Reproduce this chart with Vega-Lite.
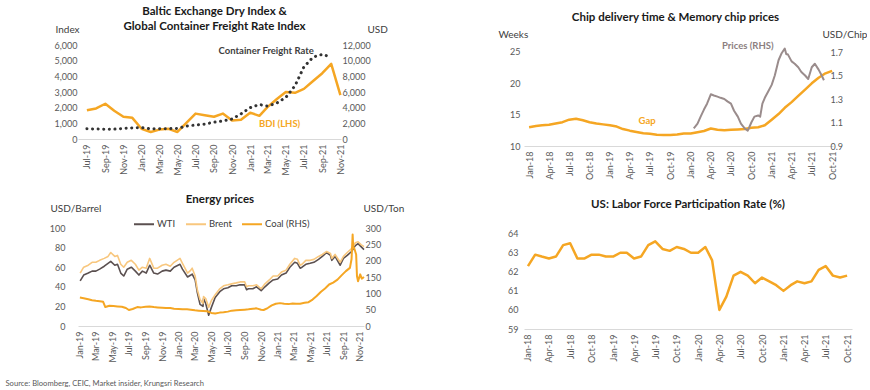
{
  "$schema": "https://vega.github.io/schema/vega-lite/v6.json",
  "padding": {"left": 5, "top": 5, "right": 0, "bottom": 0},
  "config": {
    "font": "Lato",
    "view": {"stroke": null},
    "axis": {"grid": false, "ticks": false, "domain": false, "labelFont": "Lato", "labelFontSize": 9, "labelColor": "#595959", "titleFont": "Lato", "titleFontWeight": "normal", "titleFontSize": 10, "titleColor": "#404040", "labelOverlap": false},
    "axisX": {"domain": true, "domainColor": "#D9D9D9", "domainWidth": 1, "labelAngle": -90, "labelPadding": 5, "labelFlush": false},
    "title": {"font": "Lato", "fontSize": 11.5, "fontWeight": "bold", "color": "#1A1A1A", "anchor": "middle"},
    "line": {"strokeJoin": "round"}
  },
  "datasets": {
    "freight": [
      {"date": "2019-07-01", "bdi": 1830, "cfr": 1300},
      {"date": "2019-08-01", "bdi": 1950, "cfr": 1280},
      {"date": "2019-09-01", "bdi": 2250, "cfr": 1250},
      {"date": "2019-10-01", "bdi": 1800, "cfr": 1260},
      {"date": "2019-11-01", "bdi": 1420, "cfr": 1350},
      {"date": "2019-12-01", "bdi": 1350, "cfr": 1420},
      {"date": "2020-01-01", "bdi": 650, "cfr": 1450},
      {"date": "2020-02-01", "bdi": 450, "cfr": 1300},
      {"date": "2020-03-01", "bdi": 600, "cfr": 1300},
      {"date": "2020-04-01", "bdi": 650, "cfr": 1320},
      {"date": "2020-05-01", "bdi": 450, "cfr": 1350},
      {"date": "2020-06-01", "bdi": 1050, "cfr": 1650},
      {"date": "2020-07-01", "bdi": 1620, "cfr": 1780},
      {"date": "2020-08-01", "bdi": 1520, "cfr": 1900},
      {"date": "2020-09-01", "bdi": 1420, "cfr": 2150},
      {"date": "2020-10-01", "bdi": 1620, "cfr": 2300},
      {"date": "2020-11-01", "bdi": 1180, "cfr": 2550},
      {"date": "2020-12-01", "bdi": 1230, "cfr": 3200},
      {"date": "2021-01-01", "bdi": 1680, "cfr": 4000},
      {"date": "2021-02-01", "bdi": 1480, "cfr": 4400},
      {"date": "2021-03-01", "bdi": 2050, "cfr": 4200},
      {"date": "2021-04-01", "bdi": 2550, "cfr": 4600},
      {"date": "2021-05-01", "bdi": 3000, "cfr": 5300},
      {"date": "2021-06-01", "bdi": 2950, "cfr": 6800},
      {"date": "2021-07-01", "bdi": 3200, "cfr": 9200},
      {"date": "2021-08-01", "bdi": 3700, "cfr": 10450},
      {"date": "2021-09-01", "bdi": 4200, "cfr": 10800},
      {"date": "2021-10-01", "bdi": 4800, "cfr": 10450},
      {"date": "2021-11-01", "bdi": 2800, "cfr": null}
    ],
    "gap": [
      {"date": "2018-01-01", "gap": 13.0}, {"date": "2018-02-01", "gap": 13.2}, {"date": "2018-03-01", "gap": 13.3}, {"date": "2018-04-01", "gap": 13.4},
      {"date": "2018-05-01", "gap": 13.6}, {"date": "2018-06-01", "gap": 13.8}, {"date": "2018-07-01", "gap": 14.2}, {"date": "2018-08-01", "gap": 14.35},
      {"date": "2018-09-01", "gap": 14.1}, {"date": "2018-10-01", "gap": 13.8}, {"date": "2018-11-01", "gap": 13.6}, {"date": "2018-12-01", "gap": 13.45},
      {"date": "2019-01-01", "gap": 13.3}, {"date": "2019-02-01", "gap": 13.1}, {"date": "2019-03-01", "gap": 12.7}, {"date": "2019-04-01", "gap": 12.45},
      {"date": "2019-05-01", "gap": 12.25}, {"date": "2019-06-01", "gap": 12.05}, {"date": "2019-07-01", "gap": 11.95}, {"date": "2019-08-01", "gap": 11.8},
      {"date": "2019-09-01", "gap": 11.75}, {"date": "2019-10-01", "gap": 11.75}, {"date": "2019-11-01", "gap": 11.85}, {"date": "2019-12-01", "gap": 12.0},
      {"date": "2020-01-01", "gap": 12.0}, {"date": "2020-02-01", "gap": 12.2}, {"date": "2020-03-01", "gap": 12.4}, {"date": "2020-04-01", "gap": 12.8},
      {"date": "2020-05-01", "gap": 12.6}, {"date": "2020-06-01", "gap": 12.5}, {"date": "2020-07-01", "gap": 12.6}, {"date": "2020-08-01", "gap": 12.65},
      {"date": "2020-09-01", "gap": 12.7}, {"date": "2020-10-01", "gap": 12.9}, {"date": "2020-11-01", "gap": 13.0}, {"date": "2020-12-01", "gap": 13.3},
      {"date": "2021-01-01", "gap": 14.2}, {"date": "2021-02-01", "gap": 15.1}, {"date": "2021-03-01", "gap": 16.1}, {"date": "2021-04-01", "gap": 17.0},
      {"date": "2021-05-01", "gap": 18.0}, {"date": "2021-06-01", "gap": 19.0}, {"date": "2021-07-01", "gap": 20.0}, {"date": "2021-08-01", "gap": 20.9},
      {"date": "2021-09-01", "gap": 21.6}, {"date": "2021-10-01", "gap": 22.0}
    ],
    "chip": [
      {"date": "2020-01-15", "price": 1.05}, {"date": "2020-02-01", "price": 1.09}, {"date": "2020-02-15", "price": 1.15}, {"date": "2020-03-01", "price": 1.21},
      {"date": "2020-03-15", "price": 1.26}, {"date": "2020-04-01", "price": 1.34}, {"date": "2020-04-15", "price": 1.33}, {"date": "2020-05-01", "price": 1.32},
      {"date": "2020-05-15", "price": 1.31}, {"date": "2020-06-01", "price": 1.30}, {"date": "2020-06-15", "price": 1.28}, {"date": "2020-07-01", "price": 1.26},
      {"date": "2020-07-15", "price": 1.20}, {"date": "2020-08-01", "price": 1.15}, {"date": "2020-08-15", "price": 1.09}, {"date": "2020-09-01", "price": 1.05},
      {"date": "2020-09-15", "price": 1.03}, {"date": "2020-10-01", "price": 1.10}, {"date": "2020-10-15", "price": 1.15}, {"date": "2020-11-01", "price": 1.16},
      {"date": "2020-11-10", "price": 1.15}, {"date": "2020-11-20", "price": 1.26}, {"date": "2020-12-01", "price": 1.31}, {"date": "2020-12-15", "price": 1.36},
      {"date": "2021-01-01", "price": 1.42}, {"date": "2021-01-15", "price": 1.50}, {"date": "2021-02-01", "price": 1.63}, {"date": "2021-02-15", "price": 1.69},
      {"date": "2021-03-01", "price": 1.73}, {"date": "2021-03-08", "price": 1.68}, {"date": "2021-03-15", "price": 1.68}, {"date": "2021-04-01", "price": 1.62},
      {"date": "2021-04-15", "price": 1.60}, {"date": "2021-05-01", "price": 1.57}, {"date": "2021-05-15", "price": 1.53}, {"date": "2021-06-01", "price": 1.50},
      {"date": "2021-06-15", "price": 1.47}, {"date": "2021-07-01", "price": 1.57}, {"date": "2021-07-15", "price": 1.60}, {"date": "2021-08-01", "price": 1.55},
      {"date": "2021-08-15", "price": 1.50}, {"date": "2021-08-25", "price": 1.46}
    ],
    "oil": [
      {"date": "2019-01-02", "WTI": 46, "Brent": 54}, {"date": "2019-01-15", "WTI": 52, "Brent": 60}, {"date": "2019-02-01", "WTI": 54, "Brent": 62},
      {"date": "2019-02-15", "WTI": 56, "Brent": 65}, {"date": "2019-03-01", "WTI": 56, "Brent": 65}, {"date": "2019-03-15", "WTI": 58, "Brent": 67},
      {"date": "2019-04-01", "WTI": 61, "Brent": 69}, {"date": "2019-04-15", "WTI": 64, "Brent": 71}, {"date": "2019-04-25", "WTI": 66, "Brent": 75},
      {"date": "2019-05-10", "WTI": 62, "Brent": 71}, {"date": "2019-05-20", "WTI": 63, "Brent": 72}, {"date": "2019-06-01", "WTI": 54, "Brent": 63},
      {"date": "2019-06-12", "WTI": 51, "Brent": 60}, {"date": "2019-06-25", "WTI": 58, "Brent": 65}, {"date": "2019-07-10", "WTI": 60, "Brent": 67},
      {"date": "2019-07-25", "WTI": 56, "Brent": 63}, {"date": "2019-08-07", "WTI": 52, "Brent": 57}, {"date": "2019-08-20", "WTI": 56, "Brent": 60},
      {"date": "2019-09-03", "WTI": 54, "Brent": 59}, {"date": "2019-09-16", "WTI": 62, "Brent": 69}, {"date": "2019-10-01", "WTI": 54, "Brent": 59},
      {"date": "2019-10-15", "WTI": 53, "Brent": 59}, {"date": "2019-11-01", "WTI": 56, "Brent": 62}, {"date": "2019-11-15", "WTI": 57, "Brent": 63},
      {"date": "2019-12-01", "WTI": 56, "Brent": 61}, {"date": "2019-12-15", "WTI": 60, "Brent": 65}, {"date": "2020-01-06", "WTI": 63, "Brent": 69},
      {"date": "2020-01-15", "WTI": 58, "Brent": 64}, {"date": "2020-02-03", "WTI": 50, "Brent": 54}, {"date": "2020-02-15", "WTI": 52, "Brent": 57},
      {"date": "2020-02-20", "WTI": 53, "Brent": 59}, {"date": "2020-03-02", "WTI": 47, "Brent": 51}, {"date": "2020-03-10", "WTI": 34, "Brent": 37},
      {"date": "2020-03-20", "WTI": 22, "Brent": 27}, {"date": "2020-03-31", "WTI": 20, "Brent": 23}, {"date": "2020-04-02", "WTI": 28, "Brent": 30},
      {"date": "2020-04-10", "WTI": 23, "Brent": 28}, {"date": "2020-04-21", "WTI": 11, "Brent": 19}, {"date": "2020-05-01", "WTI": 19, "Brent": 26},
      {"date": "2020-05-15", "WTI": 29, "Brent": 32}, {"date": "2020-06-01", "WTI": 35, "Brent": 38}, {"date": "2020-06-15", "WTI": 38, "Brent": 41},
      {"date": "2020-07-01", "WTI": 39, "Brent": 42}, {"date": "2020-07-15", "WTI": 41, "Brent": 43}, {"date": "2020-08-01", "WTI": 41, "Brent": 44},
      {"date": "2020-08-15", "WTI": 42, "Brent": 45}, {"date": "2020-09-01", "WTI": 42, "Brent": 45}, {"date": "2020-09-08", "WTI": 37, "Brent": 40},
      {"date": "2020-09-15", "WTI": 38, "Brent": 41}, {"date": "2020-10-01", "WTI": 38, "Brent": 41}, {"date": "2020-10-15", "WTI": 40, "Brent": 42},
      {"date": "2020-11-01", "WTI": 36, "Brent": 38}, {"date": "2020-11-15", "WTI": 40, "Brent": 43}, {"date": "2020-12-01", "WTI": 44, "Brent": 47},
      {"date": "2020-12-15", "WTI": 47, "Brent": 51}, {"date": "2021-01-01", "WTI": 48, "Brent": 51}, {"date": "2021-01-15", "WTI": 52, "Brent": 55},
      {"date": "2021-02-01", "WTI": 54, "Brent": 57}, {"date": "2021-02-15", "WTI": 60, "Brent": 63}, {"date": "2021-03-05", "WTI": 65, "Brent": 69},
      {"date": "2021-03-15", "WTI": 64, "Brent": 68}, {"date": "2021-03-25", "WTI": 59, "Brent": 62}, {"date": "2021-04-01", "WTI": 60, "Brent": 63},
      {"date": "2021-04-15", "WTI": 63, "Brent": 67}, {"date": "2021-05-01", "WTI": 64, "Brent": 67}, {"date": "2021-05-15", "WTI": 65, "Brent": 68},
      {"date": "2021-06-01", "WTI": 68, "Brent": 71}, {"date": "2021-06-15", "WTI": 71, "Brent": 73}, {"date": "2021-07-01", "WTI": 75, "Brent": 76},
      {"date": "2021-07-15", "WTI": 72, "Brent": 74}, {"date": "2021-07-20", "WTI": 67, "Brent": 69}, {"date": "2021-08-01", "WTI": 71, "Brent": 73},
      {"date": "2021-08-20", "WTI": 62, "Brent": 65}, {"date": "2021-09-01", "WTI": 69, "Brent": 71}, {"date": "2021-09-15", "WTI": 72, "Brent": 75},
      {"date": "2021-10-01", "WTI": 76, "Brent": 79}, {"date": "2021-10-15", "WTI": 82, "Brent": 85}, {"date": "2021-10-25", "WTI": 84, "Brent": 86},
      {"date": "2021-11-05", "WTI": 81, "Brent": 83}, {"date": "2021-11-16", "WTI": 78, "Brent": 81}
    ],
    "coal": [
      {"date": "2019-01-01", "coal": 87}, {"date": "2019-01-15", "coal": 85}, {"date": "2019-02-01", "coal": 82}, {"date": "2019-02-15", "coal": 79},
      {"date": "2019-03-01", "coal": 77}, {"date": "2019-03-15", "coal": 76}, {"date": "2019-03-28", "coal": 74}, {"date": "2019-04-05", "coal": 58},
      {"date": "2019-04-20", "coal": 62}, {"date": "2019-05-05", "coal": 61}, {"date": "2019-05-20", "coal": 60}, {"date": "2019-06-05", "coal": 59},
      {"date": "2019-06-20", "coal": 55}, {"date": "2019-07-01", "coal": 49}, {"date": "2019-07-15", "coal": 52}, {"date": "2019-08-01", "coal": 58},
      {"date": "2019-08-15", "coal": 57}, {"date": "2019-09-01", "coal": 59}, {"date": "2019-09-15", "coal": 60}, {"date": "2019-10-01", "coal": 58},
      {"date": "2019-10-15", "coal": 57}, {"date": "2019-11-01", "coal": 56}, {"date": "2019-11-15", "coal": 55}, {"date": "2019-12-01", "coal": 55},
      {"date": "2019-12-15", "coal": 53}, {"date": "2020-01-01", "coal": 52}, {"date": "2020-01-15", "coal": 51}, {"date": "2020-02-01", "coal": 51},
      {"date": "2020-02-15", "coal": 50}, {"date": "2020-03-01", "coal": 48}, {"date": "2020-03-15", "coal": 47}, {"date": "2020-04-01", "coal": 46},
      {"date": "2020-04-15", "coal": 45}, {"date": "2020-05-01", "coal": 40}, {"date": "2020-05-15", "coal": 38}, {"date": "2020-06-01", "coal": 41},
      {"date": "2020-06-15", "coal": 42}, {"date": "2020-07-01", "coal": 44}, {"date": "2020-07-15", "coal": 47}, {"date": "2020-08-01", "coal": 48},
      {"date": "2020-08-15", "coal": 49}, {"date": "2020-09-01", "coal": 50}, {"date": "2020-09-15", "coal": 51}, {"date": "2020-10-01", "coal": 53},
      {"date": "2020-10-15", "coal": 54}, {"date": "2020-11-01", "coal": 50}, {"date": "2020-11-10", "coal": 49}, {"date": "2020-11-25", "coal": 55},
      {"date": "2020-12-10", "coal": 63}, {"date": "2020-12-25", "coal": 68}, {"date": "2021-01-10", "coal": 70}, {"date": "2021-01-25", "coal": 68},
      {"date": "2021-02-10", "coal": 67}, {"date": "2021-02-25", "coal": 69}, {"date": "2021-03-10", "coal": 68}, {"date": "2021-03-25", "coal": 68},
      {"date": "2021-04-10", "coal": 71}, {"date": "2021-04-25", "coal": 73}, {"date": "2021-05-10", "coal": 81}, {"date": "2021-05-25", "coal": 92},
      {"date": "2021-06-10", "coal": 105}, {"date": "2021-06-25", "coal": 115}, {"date": "2021-07-10", "coal": 127}, {"date": "2021-07-25", "coal": 133},
      {"date": "2021-08-10", "coal": 142}, {"date": "2021-08-25", "coal": 155}, {"date": "2021-09-10", "coal": 168}, {"date": "2021-09-25", "coal": 178},
      {"date": "2021-10-01", "coal": 205}, {"date": "2021-10-05", "coal": 280}, {"date": "2021-10-07", "coal": 244}, {"date": "2021-10-12", "coal": 235},
      {"date": "2021-10-18", "coal": 219}, {"date": "2021-10-21", "coal": 153}, {"date": "2021-10-25", "coal": 137}, {"date": "2021-11-02", "coal": 158},
      {"date": "2021-11-08", "coal": 145}, {"date": "2021-11-16", "coal": 150}
    ],
    "lfpr": [
      {"date": "2018-01-01", "rate": 62.3}, {"date": "2018-02-01", "rate": 62.9}, {"date": "2018-03-01", "rate": 62.8}, {"date": "2018-04-01", "rate": 62.7},
      {"date": "2018-05-01", "rate": 62.8}, {"date": "2018-06-01", "rate": 63.4}, {"date": "2018-07-01", "rate": 63.5}, {"date": "2018-08-01", "rate": 62.7},
      {"date": "2018-09-01", "rate": 62.7}, {"date": "2018-10-01", "rate": 62.9}, {"date": "2018-11-01", "rate": 62.9}, {"date": "2018-12-01", "rate": 62.8},
      {"date": "2019-01-01", "rate": 62.8}, {"date": "2019-02-01", "rate": 63.0}, {"date": "2019-03-01", "rate": 63.0}, {"date": "2019-04-01", "rate": 62.7},
      {"date": "2019-05-01", "rate": 62.8}, {"date": "2019-06-01", "rate": 63.4}, {"date": "2019-07-01", "rate": 63.6}, {"date": "2019-08-01", "rate": 63.2},
      {"date": "2019-09-01", "rate": 63.1}, {"date": "2019-10-01", "rate": 63.3}, {"date": "2019-11-01", "rate": 63.2}, {"date": "2019-12-01", "rate": 63.0},
      {"date": "2020-01-01", "rate": 63.0}, {"date": "2020-02-01", "rate": 63.3}, {"date": "2020-03-01", "rate": 62.6}, {"date": "2020-04-01", "rate": 60.0},
      {"date": "2020-05-01", "rate": 60.7}, {"date": "2020-06-01", "rate": 61.8}, {"date": "2020-07-01", "rate": 62.0}, {"date": "2020-08-01", "rate": 61.8},
      {"date": "2020-09-01", "rate": 61.4}, {"date": "2020-10-01", "rate": 61.7}, {"date": "2020-11-01", "rate": 61.5}, {"date": "2020-12-01", "rate": 61.3},
      {"date": "2021-01-01", "rate": 61.0}, {"date": "2021-02-01", "rate": 61.3}, {"date": "2021-03-01", "rate": 61.5}, {"date": "2021-04-01", "rate": 61.4},
      {"date": "2021-05-01", "rate": 61.5}, {"date": "2021-06-01", "rate": 62.1}, {"date": "2021-07-01", "rate": 62.3}, {"date": "2021-08-01", "rate": 61.8},
      {"date": "2021-09-01", "rate": 61.7}, {"date": "2021-10-01", "rate": 61.8}
    ]
  },
  "concat": [
    {
      "width": 263, "height": 94,
      "title": {"text": ["Baltic Exchange Dry Index &", "Global Container Freight Rate Index"], "frame": "group", "offset": -8, "lineHeight": 15, "dx": 5},
      "encoding": {
        "x": {"field": "date", "type": "temporal",
          "scale": {"type": "utc", "nice": false, "domain": [{"year": 2019, "month": 6, "date": 1, "utc": true}, {"year": 2021, "month": 11, "date": 3, "utc": true}]},
          "axis": {"format": "%b-%y", "tickCount": {"interval": "month", "step": 2}, "title": null}}
      },
      "layer": [
        {"data": {"name": "freight"}, "mark": {"type": "line", "color": "#F5A623", "strokeWidth": 2.5},
          "encoding": {"y": {"field": "bdi", "type": "quantitative", "scale": {"domain": [0, 6000], "nice": false},
            "axis": {"values": [0, 1000, 2000, 3000, 4000, 5000, 6000], "format": ",.0f", "labelPadding": 1, "title": "Index", "titleX": -23, "titleY": -16, "titleAngle": 0, "titleAlign": "left", "titleBaseline": "middle"}}}},
        {"data": {"name": "freight"}, "mark": {"type": "line", "color": "#333333", "strokeWidth": 3, "strokeDash": [0.1, 5.5], "strokeCap": "round"},
          "encoding": {"y": {"field": "cfr", "type": "quantitative", "scale": {"domain": [0, 12000], "nice": false},
            "axis": {"orient": "right", "values": [0, 2000, 4000, 6000, 8000, 10000, 12000], "format": ",.0f", "labelPadding": 1, "title": "USD", "titleX": 26, "titleY": -16, "titleAngle": 0, "titleAlign": "left", "titleBaseline": "middle"}}}},
        {"data": {"values": [{"date": "2021-02-24", "v": 5600, "label": "Container Freight Rate"}]},
          "mark": {"type": "text", "color": "#404040", "fontWeight": "bold", "fontSize": 9.5, "font": "Lato"},
          "encoding": {"y": {"field": "v", "type": "quantitative", "scale": {"domain": [0, 6000], "nice": false}, "axis": null}, "text": {"field": "label"}}},
        {"data": {"values": [{"date": "2021-04-10", "v": 960, "label": "BDI (LHS)"}]},
          "mark": {"type": "text", "color": "#F5A623", "fontWeight": "bold", "fontSize": 9.5, "font": "Lato"},
          "encoding": {"y": {"field": "v", "type": "quantitative", "scale": {"domain": [0, 6000], "nice": false}, "axis": null}, "text": {"field": "label"}}}
      ],
      "resolve": {"scale": {"y": "independent"}}
    },
    {
      "width": 309, "height": 101,
      "title": {"text": "Chip delivery time & Memory chip prices", "frame": "group", "offset": 6, "dx": -3},
      "encoding": {
        "x": {"field": "date", "type": "temporal",
          "scale": {"type": "utc", "nice": false, "domain": [{"year": 2017, "month": 12, "date": 9, "utc": true}, {"year": 2021, "month": 10, "date": 5, "utc": true}]},
          "axis": {"format": "%b-%y", "tickCount": {"interval": "month", "step": 3}, "title": null}}
      },
      "layer": [
        {"data": {"name": "gap"}, "mark": {"type": "line", "color": "#F5A623", "strokeWidth": 2.5},
          "encoding": {"y": {"field": "gap", "type": "quantitative", "scale": {"domain": [10, 26.117], "nice": false},
            "axis": {"values": [10, 15, 20, 25], "labelPadding": 4, "title": "Weeks", "titleX": -26, "titleY": -11, "titleAngle": 0, "titleAlign": "left", "titleBaseline": "middle"}}}},
        {"data": {"name": "chip"}, "mark": {"type": "line", "color": "#9A8C8C", "strokeWidth": 2},
          "encoding": {"y": {"field": "price", "type": "quantitative", "scale": {"domain": [0.9, 1.7596], "nice": false},
            "axis": {"orient": "right", "values": [0.9, 1.1, 1.3, 1.5, 1.7], "format": ".1f", "labelPadding": -3, "title": "USD/Chip", "titleX": -11, "titleY": -11, "titleAngle": 0, "titleAlign": "left", "titleBaseline": "middle"}}}},
        {"data": {"values": [{"date": "2020-09-15", "v": 25.96, "label": "Prices (RHS)"}]},
          "mark": {"type": "text", "color": "#8C7F7F", "fontWeight": "bold", "fontSize": 9.5, "font": "Lato"},
          "encoding": {"y": {"field": "v", "type": "quantitative", "scale": {"domain": [10, 26.117], "nice": false}, "axis": null}, "text": {"field": "label"}}},
        {"data": {"values": [{"date": "2019-06-18", "v": 14.0, "label": "Gap"}]},
          "mark": {"type": "text", "color": "#F5A623", "fontWeight": "bold", "fontSize": 9.5, "font": "Lato"},
          "encoding": {"y": {"field": "v", "type": "quantitative", "scale": {"domain": [10, 26.117], "nice": false}, "axis": null}, "text": {"field": "label"}}}
      ],
      "resolve": {"scale": {"y": "independent"}}
    },
    {
      "width": 286, "height": 98,
      "title": {"text": "Energy prices", "frame": "group", "offset": -2, "dx": -1},
      "encoding": {
        "x": {"field": "date", "type": "temporal",
          "scale": {"type": "utc", "nice": false, "domain": [{"year": 2018, "month": 12, "date": 25, "utc": true}, {"year": 2021, "month": 11, "date": 16, "utc": true}]},
          "axis": {"format": "%b-%y", "tickCount": {"interval": "month", "step": 2},
            "title": "Source: Bloomberg, CEIC, Market insider, Krungsri Research", "titleX": -73, "titleY": 57, "titleAngle": 0, "titleAlign": "left", "titleBaseline": "middle", "titleFontSize": 7.6, "titleColor": "#595959"}}
      },
      "layer": [
        {"data": {"name": "oil"}, "transform": [{"fold": ["WTI", "Brent"], "as": ["series", "value"]}],
          "mark": {"type": "line", "strokeWidth": 1.6},
          "encoding": {
            "y": {"field": "value", "type": "quantitative", "scale": {"domain": [0, 100], "nice": false},
              "axis": {"values": [0, 20, 40, 60, 80, 100], "labelPadding": 13, "title": "USD/Barrel", "titleX": -28, "titleY": -20, "titleAngle": 0, "titleAlign": "left", "titleBaseline": "middle"}},
            "color": {"field": "series", "type": "nominal",
              "scale": {"domain": ["WTI", "Brent", "Coal (RHS)"], "range": ["#5B5050", "#F8C77E", "#F5A623"]},
              "legend": {"orient": "none", "legendX": 55, "legendY": -15, "direction": "horizontal", "title": null, "symbolType": "stroke", "symbolSize": 400, "symbolStrokeWidth": 2, "labelFontSize": 9.5, "labelColor": "#404040", "labelFont": "Lato", "columnPadding": 9, "labelOffset": 2}}
          }},
        {"data": {"name": "coal"}, "mark": {"type": "line", "strokeWidth": 2},
          "encoding": {
            "y": {"field": "coal", "type": "quantitative", "scale": {"domain": [0, 300], "nice": false},
              "axis": {"orient": "right", "values": [0, 50, 100, 150, 200, 250, 300], "labelPadding": 1, "title": "USD/Ton", "titleX": -1, "titleY": -20, "titleAngle": 0, "titleAlign": "left", "titleBaseline": "middle"}},
            "color": {"datum": "Coal (RHS)", "type": "nominal"}
          }}
      ],
      "resolve": {"scale": {"y": "independent"}}
    },
    {
      "width": 328, "height": 101,
      "title": {"text": "US: Labor Force Participation Rate (%)", "frame": "group", "offset": 18},
      "data": {"name": "lfpr"},
      "mark": {"type": "line", "color": "#F5A623", "strokeWidth": 2.5},
      "encoding": {
        "x": {"field": "date", "type": "temporal",
          "scale": {"type": "utc", "nice": false, "domain": [{"year": 2017, "month": 12, "date": 15, "utc": true}, {"year": 2021, "month": 10, "date": 22, "utc": true}]},
          "axis": {"format": "%b-%y", "tickCount": {"interval": "month", "step": 3}, "title": null}},
        "y": {"field": "rate", "type": "quantitative", "scale": {"domain": [59, 64.298], "nice": false},
          "axis": {"values": [59, 60, 61, 62, 63, 64], "labelPadding": 6, "title": null}}
      }
    }
  ],
  "columns": 2,
  "spacing": {"row": 82, "column": 160},
  "bounds": "flush",
  "resolve": {"scale": {"color": "independent"}, "legend": {"color": "independent"}}
}
